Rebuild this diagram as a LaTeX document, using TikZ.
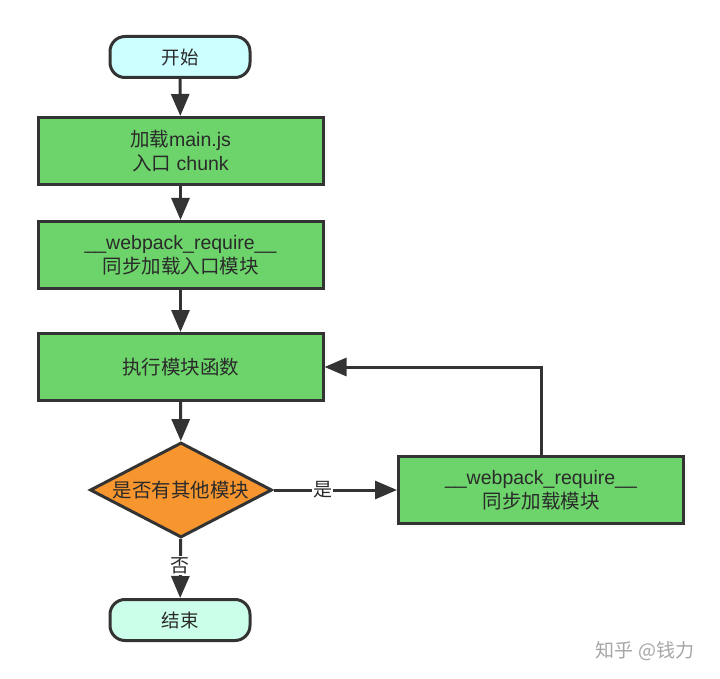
\documentclass[tikz,border=0pt]{standalone}
\usepackage{fontspec}
\setmainfont{Liberation Sans}
\newfontfamily\cjk{Noto Sans CJK SC}
\usetikzlibrary{arrows.meta,shapes.geometric,positioning}
\definecolor{boxgreen}{HTML}{6CD46A}
\definecolor{startcyan}{HTML}{CCFFFF}
\definecolor{endmint}{HTML}{CCFFEA}
\definecolor{decor}{HTML}{F7962F}
\definecolor{edge}{HTML}{333333}
\definecolor{txt}{HTML}{2A2A2A}
\begin{document}
\begin{tikzpicture}[x=1pt,y=-1pt,
  every node/.style={font=\fontsize{19.5}{23.5}\selectfont, text=txt},
  term/.style={draw=edge, line width=3pt, rounded corners=15pt, minimum width=140pt, minimum height=41pt, inner sep=0pt},
  procbox/.style={draw=edge, line width=3pt, fill=boxgreen, minimum width=285pt, minimum height=67pt, align=center, inner sep=0pt},
  decbox/.style={draw=edge, line width=3pt, fill=decor, diamond, aspect=1.9, minimum width=182pt, minimum height=95pt, inner sep=0pt},
  conn/.style={draw=edge, line width=3pt, -{Triangle[length=22pt,width=18pt]}},
  lbl/.style={fill=white, inner sep=1pt, font=\cjk\fontsize{19}{22}\selectfont}
]
\useasboundingbox (0,0) rectangle (720,679);
\fill[white] (0,0) rectangle (720,679);
\node[term, fill=startcyan, font=\cjk\fontsize{18.5}{22}\selectfont] (start) at (180,57) {开始};
\node[procbox] (load) at (180.5,151) {{\cjk 加载}main.js\\{\cjk 入口} chunk};
\node[procbox] (req) at (180.5,255) {\_\_webpack\_require\_\_\\{\cjk 同步加载入口模块}};
\node[procbox] (exec) at (180.5,367) {\cjk 执行模块函数};
\node[decbox] (dec) at (181,490) {\cjk 是否有其他模块};
\node[procbox] (sync) at (541,490) {\_\_webpack\_require\_\_\\{\cjk 同步加载模块}};
\node[term, fill=endmint, font=\cjk\fontsize{18.5}{22}\selectfont] (end) at (180,620) {结束};
\coordinate (corner) at (541,367);

\draw[conn] (start) -- (load);
\draw[conn] (load) -- (req);
\draw[conn] (req) -- (exec);
\draw[conn] (exec) -- (dec);
\draw[conn] (dec) -- node[lbl, pos=0.4] {是} (sync);
\draw[conn] (dec) -- node[lbl, pos=0.45] {否} (end);
\draw[conn] (sync.north) -- (corner) -- (exec.east);

\node[text=gray!70, font=\cjk\fontsize{19}{22}\selectfont] (wm) at (645,651) {知乎 @钱力};
\end{tikzpicture}
\end{document}
